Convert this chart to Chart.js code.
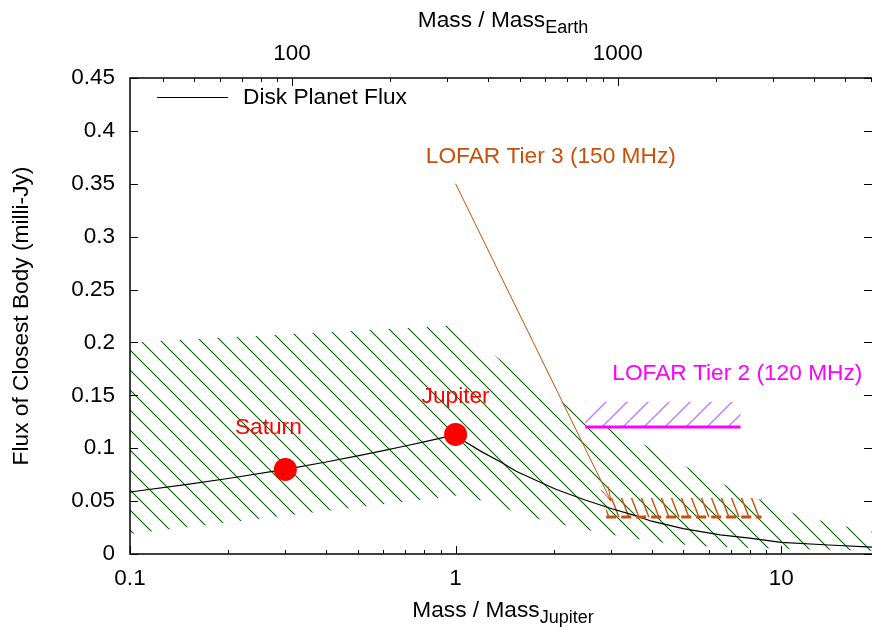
<!DOCTYPE html>
<html>
<head>
<meta charset="utf-8">
<script src="https://cdn.jsdelivr.net/npm/chart.js@4.4.1/dist/chart.umd.min.js"></script>
<style>
  html, body { margin: 0; padding: 0; background: #fff; }
  #wrap { width: 872px; height: 630px; }
</style>
</head>
<body>
<div id="wrap"><canvas id="chart" width="872" height="630"></canvas></div>
<script>
// Disk planet flux curve (mass in Jupiter masses, flux in milli-Jy)
const massJup = [0.1, 0.15, 0.2, 0.3, 0.4, 0.5, 0.6, 0.7, 0.8, 0.9, 1.0,
                 1.07, 1.2, 1.38, 1.54, 1.75, 2.04, 2.5, 3.0, 3.5, 4.0, 5.0, 6.5, 8.0, 10, 14, 19];
const diskFlux = [0.0586, 0.0658, 0.0714, 0.080, 0.087, 0.0928, 0.0977, 0.1021, 0.106, 0.1096, 0.113,
                  0.106, 0.0968, 0.0867, 0.078, 0.0702, 0.061, 0.051, 0.043, 0.037, 0.031, 0.024, 0.018, 0.015, 0.011, 0.0085, 0.0065];

// Solar system planets
const planetNames = ['Saturn', 'Jupiter'];
const planetMass = [0.3, 1.0];
const planetFlux = [0.080, 0.113];

// Hatched spread of the flux estimate
const bandUpperMass = [0.1, 1.0, 1.66, 2.46, 3.24, 4.18, 5.91, 7.73, 9.7, 11.8, 14.4, 17.4, 19];
const bandUpperFlux = [0.200, 0.216, 0.164, 0.131, 0.114, 0.097, 0.072, 0.058, 0.044, 0.035, 0.029, 0.023, 0.021];
const bandLowerMass = [0.1, 1.0, 1.23, 1.55, 1.9, 2.3, 2.7, 3.3, 4.5, 6, 10, 19];
const bandLowerFlux = [0.019, 0.055, 0.050, 0.039, 0.031, 0.0255, 0.021, 0.016, 0.010, 0.007, 0.005, 0.003];

// LOFAR sensitivity limits
const tier2Mass = [2.5, 7.5];
const tier2Flux = 0.12;
const tier2Top = 0.144;
const tier3Mass = [2.9, 8.7];
const tier3Flux = 0.035;
const tier3Top = 0.053;
const arrowMass = [1.0, 3.0];
const arrowFlux = [0.35, 0.05];

// Axes
const EARTH_PER_JUPITER = 317.8;
const bottomTicks = [0.1, 0.2, 0.3, 0.4, 0.5, 0.6, 0.7, 0.8, 0.9, 1, 2, 3, 4, 5, 6, 7, 8, 9, 10];
const bottomLabels = [0.1, 1, 10];
const topTicks = [40, 50, 60, 70, 80, 90, 100, 200, 300, 400, 500, 600, 700, 800, 900, 1000, 2000, 3000, 4000, 5000, 6000];
const topLabels = [100, 1000];
const yTicks = [0, 0.05, 0.1, 0.15, 0.2, 0.25, 0.3, 0.35, 0.4, 0.45];

const FONT = "'Liberation Sans', Arial, sans-serif";
const TEXT_SIZE = 22.7;
const TIER3 = '#c8500a';

function pts(xs, ys) {
    return xs.map((x, i) => ({ x, y: Array.isArray(ys) ? ys[i] : ys }));
}

function rect(xs, lo, hi) {
    return [{ x: xs[0], y: lo }, { x: xs[1], y: lo }, { x: xs[1], y: hi }, { x: xs[0], y: hi }, { x: xs[0], y: lo }];
}

// hatch patterns
function hatch(w, h, color, width, segs) {
    const c = document.createElement('canvas');
    c.width = w; c.height = h;
    const g = c.getContext('2d');
    g.strokeStyle = color;
    g.lineWidth = width;
    segs.forEach(s => {
        g.beginPath();
        g.moveTo(s[0], s[1]);
        g.lineTo(s[2], s[3]);
        g.stroke();
    });
    return g.createPattern(c, 'repeat');
}

const greenHatch = hatch(20, 20, '#006400', 1.1, [[-20, -20, 40, 40], [0, -20, 40, 20], [-20, 0, 20, 40]]);
const purpleHatch = hatch(21, 21, '#c080ff', 1.2, [[-21, 21, 21, -21], [0, 21, 21, 0], [0, 42, 42, 0], [-21, 42, 42, -21]]);
const tier3Hatch = hatch(10, 26, TIER3, 1.4, [[-10, -26, 20, 52], [0, -26, 20, 26], [-10, 0, 10, 52]]);

const bandPolygon = pts(bandUpperMass, bandUpperFlux)
    .concat(pts(bandLowerMass, bandLowerFlux).reverse());
bandPolygon.push({ x: bandUpperMass[0], y: bandUpperFlux[0] });

const annotations = [
    { text: planetNames[0], x: 0.266, y: 0.119, color: '#ff0000', align: 'center' },
    { text: planetNames[1], x: 1.0, y: 0.149, color: '#ff0000', align: 'center' },
    { text: 'LOFAR Tier 3 (150 MHz)', x: 1.96, y: 0.3755, color: TIER3, align: 'center' },
    { text: 'LOFAR Tier 2 (120 MHz)', x: 7.33, y: 0.1708, color: '#ff00ff', align: 'center' }
];

function drawSubText(ctx, main, sub, cx, baseline, size, subSize, shift) {
    ctx.font = size + 'px ' + FONT;
    const w1 = ctx.measureText(main).width;
    ctx.font = subSize + 'px ' + FONT;
    const w2 = ctx.measureText(sub).width;
    const x0 = cx - (w1 + w2) / 2;
    ctx.textAlign = 'left';
    ctx.textBaseline = 'alphabetic';
    ctx.font = size + 'px ' + FONT;
    ctx.fillText(main, x0, baseline);
    ctx.font = subSize + 'px ' + FONT;
    ctx.fillText(sub, x0 + w1, baseline + shift);
}

const decorations = {
    id: 'decorations',
    afterDatasetsDraw(chart) {
        const { ctx, chartArea: a, scales } = chart;
        ctx.save();
        ctx.strokeStyle = '#000';
        ctx.lineWidth = 1;
        const seg = (x1, y1, x2, y2) => {
            ctx.beginPath(); ctx.moveTo(x1, y1); ctx.lineTo(x2, y2); ctx.stroke();
        };

        // inward ticks
        scales.x.ticks.forEach(t => {
            const px = Math.round(scales.x.getPixelForValue(t.value)) + 0.5;
            seg(px, a.bottom, px, a.bottom - (bottomLabels.includes(t.value) ? 8 : 4));
        });
        scales.x2.ticks.forEach(t => {
            const px = Math.round(scales.x2.getPixelForValue(t.value)) + 0.5;
            seg(px, a.top, px, a.top + (topLabels.includes(t.value) ? 8 : 4));
        });
        scales.y.ticks.forEach(t => {
            const py = Math.round(scales.y.getPixelForValue(t.value)) + 0.5;
            seg(a.left, py, a.left + 8, py);
            seg(a.right, py, a.right - 8, py);
        });

        // frame (right edge falls outside the picture)
        ctx.lineWidth = 1.5;
        ctx.beginPath();
        ctx.moveTo(a.right, a.top);
        ctx.lineTo(a.left, a.top);
        ctx.lineTo(a.left, a.bottom);
        ctx.lineTo(a.right, a.bottom);
        ctx.stroke();

        // arrow head
        const am = chart.getDatasetMeta(5).data;
        if (am.length === 2) {
            const ang = Math.atan2(am[1].y - am[0].y, am[1].x - am[0].x);
            ctx.strokeStyle = TIER3;
            ctx.lineWidth = 1;
            [-0.26, 0.26].forEach(d => {
                seg(am[1].x, am[1].y, am[1].x - 15 * Math.cos(ang + d), am[1].y - 15 * Math.sin(ang + d));
            });
        }

        // text annotations
        ctx.font = TEXT_SIZE + 'px ' + FONT;
        ctx.textBaseline = 'middle';
        annotations.forEach(n => {
            ctx.fillStyle = n.color;
            ctx.textAlign = n.align;
            ctx.fillText(n.text, scales.x.getPixelForValue(n.x), scales.y.getPixelForValue(n.y));
        });

        // legend
        ctx.strokeStyle = '#000';
        ctx.lineWidth = 1;
        seg(157, 97.5, 228, 97.5);
        ctx.fillStyle = '#000';
        ctx.textAlign = 'left';
        ctx.fillText(chart.data.datasets[3].label, 243, 98);

        // axis titles
        drawSubText(ctx, 'Mass / Mass', 'Jupiter', (a.left + a.right) / 2 + 2, 616.5, TEXT_SIZE, 18, 6.5);
        drawSubText(ctx, 'Mass / Mass', 'Earth', (a.left + a.right) / 2 + 2, 26.5, TEXT_SIZE, 18, 6.5);
        ctx.save();
        ctx.translate(22, (a.top + a.bottom) / 2);
        ctx.rotate(-Math.PI / 2);
        ctx.textAlign = 'center';
        ctx.textBaseline = 'middle';
        ctx.font = TEXT_SIZE + 'px ' + FONT;
        ctx.fillText('Flux of Closest Body (milli-Jy)', 0, 0);
        ctx.restore();
        ctx.restore();
    }
};

const tickFont = { family: FONT, size: 22.5 };
const plain = { display: false, drawTicks: false };
const noSidePad = s => { s.paddingLeft = 0; s.paddingRight = 0; };

new Chart(document.getElementById('chart'), {
    type: 'line',
    data: {
        datasets: [
            { label: 'band', data: bandPolygon, fill: 'shape', backgroundColor: greenHatch,
              borderWidth: 0, pointRadius: 0, order: 9 },
            { label: 'tier2 band', data: rect(tier2Mass, tier2Flux, tier2Top), fill: 'shape',
              backgroundColor: purpleHatch, borderWidth: 0, pointRadius: 0, order: 8 },
            { label: 'tier3 band', data: rect(tier3Mass, tier3Flux, tier3Top), fill: 'shape',
              backgroundColor: tier3Hatch, borderWidth: 0, pointRadius: 0, order: 8 },
            { label: 'Disk Planet Flux', data: pts(massJup, diskFlux), borderColor: '#000',
              borderWidth: 1.2, pointRadius: 0, fill: false, order: 5 },
            { label: 'LOFAR Tier 2', data: pts(tier2Mass, tier2Flux), borderColor: '#ff00ff',
              borderWidth: 3, pointRadius: 0, fill: false, order: 4 },
            { label: 'arrow', data: pts(arrowMass, arrowFlux), borderColor: TIER3,
              borderWidth: 1, pointRadius: 0, fill: false, order: 3 },
            { label: 'LOFAR Tier 3', data: pts(tier3Mass, tier3Flux), borderColor: TIER3,
              borderWidth: 3, borderDash: [10, 5], pointRadius: 0, fill: false, order: 4 },
            { label: 'planets', data: pts(planetMass, planetFlux), showLine: false,
              pointRadius: 11.5, pointBackgroundColor: '#ff0000', pointBorderWidth: 0, order: 1 }
        ]
    },
    options: {
        responsive: false,
        animation: false,
        events: [],
        devicePixelRatio: 1,
        layout: { padding: 0, autoPadding: false },
        plugins: { legend: { display: false }, tooltip: { enabled: false } },
        scales: {
            x: {
                type: 'logarithmic', position: 'bottom', min: 0.1, max: 19,
                grid: plain, border: { display: false },
                afterBuildTicks: s => { s.ticks = bottomTicks.map(v => ({ value: v })); },
                afterFit: s => { s.height = 76; noSidePad(s); },
                ticks: { autoSkip: false, maxRotation: 0, padding: 11, color: '#000', font: tickFont,
                         callback: v => bottomLabels.includes(v) ? String(v) : '' }
            },
            x2: {
                type: 'logarithmic', position: 'top', display: true,
                min: 0.1 * EARTH_PER_JUPITER, max: 19 * EARTH_PER_JUPITER,
                grid: plain, border: { display: false },
                afterBuildTicks: s => { s.ticks = topTicks.map(v => ({ value: v })); },
                afterFit: s => { s.height = 78; noSidePad(s); },
                ticks: { autoSkip: false, maxRotation: 0, padding: 11, color: '#000', font: tickFont,
                         callback: v => topLabels.includes(v) ? String(v) : '' }
            },
            y: {
                type: 'linear', position: 'left', min: 0, max: 0.45,
                grid: plain, border: { display: false },
                afterBuildTicks: s => { s.ticks = yTicks.map(v => ({ value: v })); },
                afterFit: s => { s.width = 130; s.paddingTop = 0; s.paddingBottom = 0; },
                ticks: { autoSkip: false, padding: 15, color: '#000', font: tickFont,
                         callback: v => String(+v.toFixed(2)) }
            }
        }
    },
    plugins: [decorations]
});
</script>
</body>
</html>
